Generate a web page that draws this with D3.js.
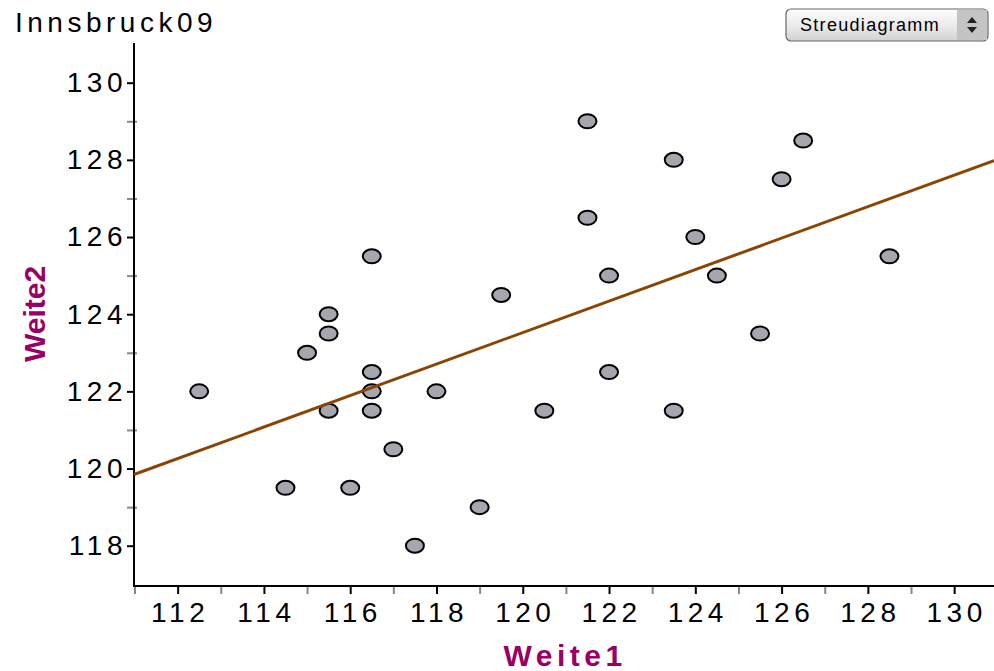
<!doctype html>
<html lang="en">
<head>
  <meta charset="utf-8">
  <title>Innsbruck09</title>
  <script src="https://d3js.org/d3.v7.min.js"></script>
  <style>
  body { margin: 0; background: #fff; }
  svg { display: block; font-family: "Liberation Sans", Arial, sans-serif; }
  .tick text { font-size: 28px; letter-spacing: 4.5px; fill: #000; }
  .axis-title { font-size: 30px; font-weight: bold; fill: #990066; }
  </style>
</head>
<body>
  <div id="chart"></div>
  <script>
    var width = 994,
        height = 671;

    // Weite1 / Weite2 pairs
    var weite1 = [112.5, 114.5, 115, 115.5, 115.5, 115.5, 116, 116.5, 116.5, 116.5, 116.5,
                  117, 117.5, 118, 119, 119.5, 120.5, 121.5, 121.5, 122, 122, 123.5, 123.5,
                  124, 124.5, 125.5, 126, 126.5, 128.5];
    var weite2 = [122, 119.5, 123, 124, 123.5, 121.5, 119.5, 125.5, 122.5, 122, 121.5,
                  120.5, 118, 122, 119, 124.5, 121.5, 129, 126.5, 125, 122.5, 128, 121.5,
                  126, 125, 123.5, 127.5, 128.5, 125.5];
    var xTicks = [112, 114, 116, 118, 120, 122, 124, 126, 128, 130];
    var xMinor = [111, 113, 115, 117, 119, 121, 123, 125, 127, 129, 131];
    var yTicks = [118, 120, 122, 124, 126, 128, 130];
    var yMinor = [119, 121, 123, 125, 127, 129];

    var axisX = 134, axisY = 586;
    var x = d3.scaleLinear().domain([111, 131]).range([134.5, 997.3]);
    var y = d3.scaleLinear().domain([117, 131]).range([584.3, 44.1]);

    var svg = d3.select("#chart").append("svg")
        .attr("width", width)
        .attr("height", height);

    // title
    svg.append("text")
        .attr("x", 15).attr("y", 32)
        .style("font-size", "28px").style("letter-spacing", "4.5px")
        .text("Innsbruck09");

    // dropdown
    var grad = svg.append("defs").append("linearGradient")
        .attr("id", "btn").attr("x1", 0).attr("y1", 0).attr("x2", 0).attr("y2", 1);
    grad.append("stop").attr("offset", "0%").attr("stop-color", "#fdfdfd");
    grad.append("stop").attr("offset", "50%").attr("stop-color", "#ececec");
    grad.append("stop").attr("offset", "100%").attr("stop-color", "#d2d2d2");
    var dd = svg.append("g").attr("transform", "translate(786,9)");
    dd.append("rect").attr("width", 202).attr("height", 32).attr("rx", 5)
        .attr("fill", "url(#btn)").attr("stroke", "#666").attr("stroke-width", 1.2);
    dd.append("rect").attr("x", 171).attr("y", 1).attr("width", 30).attr("height", 30)
        .attr("fill", "#c4c4c4");
    dd.append("path").attr("d", "M181,14 L186,8 L191,14 Z M181,18 L186,24 L191,18 Z").attr("fill", "#222");
    dd.append("text").attr("x", 14).attr("y", 22)
        .style("font-size", "18px").style("letter-spacing", "1.3px")
        .text("Streudiagramm");

    // axes
    var xAxis = svg.append("g")
        .attr("transform", "translate(0," + axisY + ")")
        .call(d3.axisBottom(x).tickValues(xTicks).tickSize(8).tickPadding(8).tickFormat(d3.format("d")));
    xAxis.select(".domain").remove();
    xAxis.selectAll("line").attr("stroke", "#000").attr("stroke-width", 2);
    xAxis.selectAll("text").attr("dx", "2px");

    svg.append("g")
        .attr("transform", "translate(0," + axisY + ")")
        .call(d3.axisBottom(x).tickValues(xMinor).tickSize(8).tickFormat(""))
        .call(function(g) {
          g.select(".domain").remove();
          g.selectAll("line").attr("stroke", "#888").attr("stroke-width", 2);
        });

    var yAxis = svg.append("g")
        .attr("transform", "translate(" + axisX + ",0)")
        .call(d3.axisLeft(y).tickValues(yTicks).tickSize(7).tickPadding(0).tickFormat(d3.format("d")));
    yAxis.select(".domain").remove();
    yAxis.selectAll("line").attr("stroke", "#000").attr("stroke-width", 2);

    svg.append("g")
        .attr("transform", "translate(" + axisX + ",0)")
        .call(d3.axisLeft(y).tickValues(yMinor).tickSize(7).tickFormat(""))
        .call(function(g) {
          g.select(".domain").remove();
          g.selectAll("line").attr("x2", -7).attr("x1", 3).attr("stroke", "#888").attr("stroke-width", 2);
        });

    svg.selectAll(".tick text").attr("font-family", null).attr("font-size", null);

    // axis lines
    svg.append("line").attr("x1", axisX).attr("x2", axisX).attr("y1", 43).attr("y2", axisY + 1)
        .attr("stroke", "#000").attr("stroke-width", 2);
    svg.append("line").attr("x1", axisX - 1).attr("x2", width).attr("y1", axisY).attr("y2", axisY)
        .attr("stroke", "#000").attr("stroke-width", 2);

    // axis titles
    svg.append("text").attr("class", "axis-title")
        .attr("x", 565).attr("y", 666).attr("text-anchor", "middle")
        .style("letter-spacing", "4.5px")
        .text("Weite1");
    svg.append("text").attr("class", "axis-title")
        .attr("transform", "translate(45,314) rotate(-90)")
        .attr("text-anchor", "middle")
        .text("Weite2");

    // points
    var pts = weite1.map(function(v, i) { return [v, weite2[i]]; });
    svg.append("g").selectAll("ellipse")
        .data(pts)
        .enter().append("ellipse")
        .attr("cx", function(d) { return x(d[0]); })
        .attr("cy", function(d) { return y(d[1]); })
        .attr("rx", 9).attr("ry", 7)
        .attr("fill", "#a6a6ae")
        .attr("stroke", "#000").attr("stroke-width", 2);

    // least squares line
    var mx = d3.mean(weite1), my = d3.mean(weite2);
    var sxy = d3.sum(pts, function(d) { return (d[0] - mx) * (d[1] - my); });
    var sxx = d3.sum(weite1, function(v) { return (v - mx) * (v - mx); });
    var slope = sxy / sxx, icpt = my - slope * mx;
    var x0 = x.invert(axisX), x1 = x.invert(width);
    svg.append("line")
        .attr("x1", x(x0)).attr("y1", y(icpt + slope * x0))
        .attr("x2", x(x1)).attr("y2", y(icpt + slope * x1))
        .attr("stroke", "#8b4500").attr("stroke-width", 3);
  </script>
</body>
</html>
